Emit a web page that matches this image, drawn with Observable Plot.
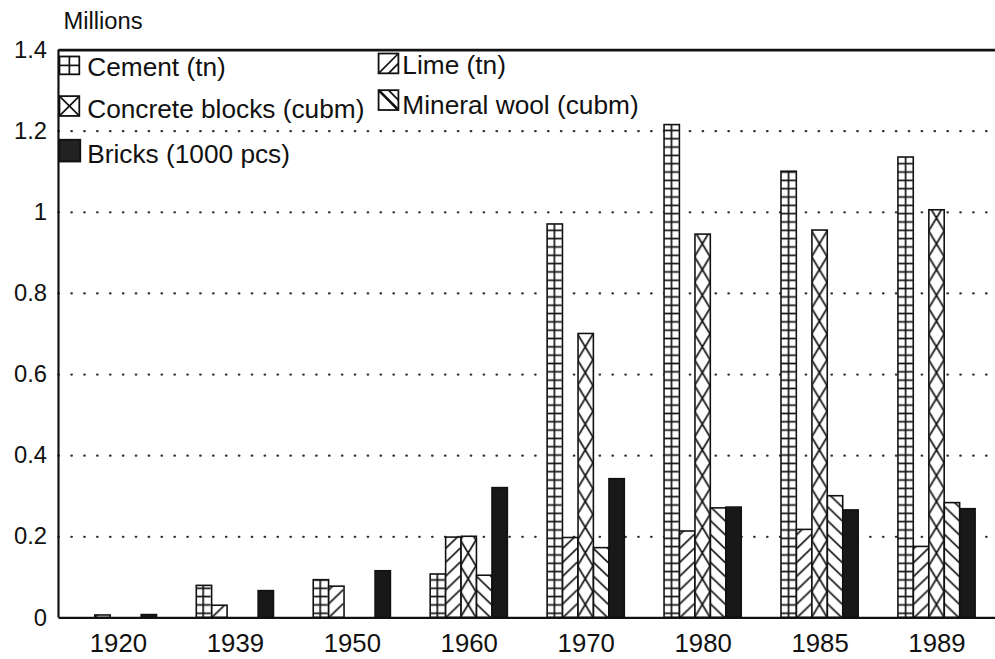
<!DOCTYPE html>
<html><head><meta charset="utf-8">
<script src="https://cdn.jsdelivr.net/npm/d3@7"></script>
<script src="https://cdn.jsdelivr.net/npm/@observablehq/plot@0.6"></script>
<style>
html,body{margin:0;padding:0;background:#fff;overflow:hidden;}
#wrap{position:relative;width:995px;height:659px;overflow:hidden;background:#fff;}
</style></head><body><div id="wrap"></div>
<script>
// ---- data ----
const years = ["1920","1939","1950","1960","1970","1980","1985","1989"];
const seriesNames = ["Cement (tn)","Lime (tn)","Concrete blocks (cubm)","Mineral wool (cubm)","Bricks (1000 pcs)"];
const cement      = [0,     0.079, 0.093, 0.107, 0.97,  1.215, 1.10,  1.135];
const lime        = [0.006, 0.030, 0.077, 0.198, 0.197, 0.213, 0.217, 0.175];
const concrete    = [0,     0,     0,     0.200, 0.700, 0.945, 0.955, 1.005];
const mineralWool = [0,     0,     0,     0.104, 0.172, 0.270, 0.300, 0.283];
const bricks      = [0.007, 0.066, 0.115, 0.320, 0.342, 0.272, 0.265, 0.268];
const yTicks = [0, 0.2, 0.4, 0.6, 0.8, 1, 1.2, 1.4];
const gridTicks = [0.2, 0.4, 0.6, 0.8, 1, 1.2];
const yLabel = "Millions";

// ---- layout ----
const W = 1004, H = 659, ML = 59, MR = 0, MT = 50, MB = 36;
const step = (W - ML - MR) / years.length;
const barW = 15.6;
const pad = (step - barW * seriesNames.length) / 2;
const ink = "#111";
const font = "'Liberation Sans', Arial, Helvetica, sans-serif";

const seriesValues = [cement, lime, concrete, mineralWool, bricks];
const fills = ["url(#pat0)", "url(#pat1)", "url(#pat2)", "url(#pat3)", "#181818"];

const barMarks = seriesValues.map((vals, i) => Plot.barY(
  years.map((year, j) => ({year, value: vals[j]})).filter(d => d.value > 0),
  {x: "year", y: "value", fill: fills[i], stroke: ink, strokeWidth: 1.6,
   insetLeft: pad + i * barW, insetRight: step - pad - (i + 1) * barW}
));

const chart = Plot.plot({
  width: W, height: H,
  marginLeft: ML, marginRight: MR, marginTop: MT, marginBottom: MB,
  style: {fontFamily: font, color: ink, background: "#fff", overflow: "visible"},
  x: {type: "band", domain: years, padding: 0, label: null},
  y: {domain: [0, 1.4], label: null},
  marks: [
    Plot.ruleY(gridTicks, {stroke: "#333", strokeWidth: 2.3, strokeDasharray: "0.5 12.5", strokeLinecap: "round"}),
    ...barMarks,
    Plot.ruleY([0], {stroke: ink, strokeWidth: 2.2}),
    Plot.ruleY([1.4], {stroke: ink, strokeWidth: 2.8}),
    Plot.axisX({tickSize: 0, tickPadding: 16, fontSize: 26, label: null}),
    Plot.axisY({ticks: yTicks, tickSize: 0, tickPadding: 12, fontSize: 24, label: null, tickFormat: d3.format("~g")})
  ]
});

document.getElementById("wrap").appendChild(chart);

// ---- patterns ----
const svg = d3.select(chart);
const yScale = chart.scale("y");
const y0 = yScale.apply(0);
const defs = svg.insert("defs", ":first-child");
function mkPattern(id, i, P, draw) {
  const ox = pad + i * barW;
  const p = defs.append("pattern").attr("id", id).attr("patternUnits", "userSpaceOnUse")
    .attr("x", ML).attr("y", y0).attr("width", step).attr("height", P);
  p.append("rect").attr("x", ox - 1).attr("y", 0).attr("width", barW + 2).attr("height", P).attr("fill", "#fff");
  const line = (x1, y1, x2, y2) => p.append("line").attr("x1", x1).attr("y1", y1).attr("x2", x2).attr("y2", y2)
    .attr("stroke", ink).attr("stroke-width", 1.7);
  draw(line, ox);
}
// cement grid
mkPattern("pat0", 0, 8.4, (line, ox) => {
  line(ox + barW / 2, -1, ox + barW / 2, 9.4);
  line(ox, 4.2, ox + barW, 4.2);
});
// lime "/"
mkPattern("pat1", 1, 14, (line, ox) => {
  for (let k = -2; k <= 2; k++) line(ox, k * 14 + 15, ox + barW, k * 14);
});
// concrete X
mkPattern("pat2", 2, 26, (line, ox) => {
  for (let k = -2; k <= 2; k++) {
    line(ox, k * 26 + 26, ox + barW, k * 26);
    line(ox, k * 26, ox + barW, k * 26 + 26);
  }
});
// mineral wool "\"
mkPattern("pat3", 3, 14, (line, ox) => {
  for (let k = -2; k <= 2; k++) line(ox, k * 14, ox + barW, k * 14 + 15);
});

// left axis line
svg.append("line").attr("x1", ML).attr("x2", ML)
  .attr("y1", yScale.apply(1.4)).attr("y2", y0)
  .attr("stroke", ink).attr("stroke-width", 2.2);

// y label
svg.append("text").attr("x", 64).attr("y", 29).attr("font-size", 24).attr("fill", ink)
  .attr("text-anchor", "start").attr("font-family", font).text(yLabel);

// ---- legend ----
const leg = svg.append("g").attr("font-family", font).attr("font-size", 26.5)
  .attr("fill", ink).attr("text-anchor", "start");
const legItems = [
  {i: 0, sx: 60, sy: 57, sw: 20, sh: 18, tx: 88, ty: 77},
  {i: 1, sx: 382, sy: 54, sw: 20, sh: 20, tx: 406, ty: 75},
  {i: 2, sx: 60, sy: 97, sw: 20, sh: 20, tx: 88, ty: 119},
  {i: 3, sx: 382, sy: 91, sw: 20, sh: 20, tx: 406, ty: 115},
  {i: 4, sx: 60, sy: 141, sw: 21, sh: 22, tx: 88, ty: 164}
];
legItems.forEach(o => {
  const g = leg.append("g");
  const l = (x1, y1, x2, y2, w) => g.append("line").attr("x1", o.sx + x1).attr("y1", o.sy + y1)
    .attr("x2", o.sx + x2).attr("y2", o.sy + y2).attr("stroke", ink).attr("stroke-width", w || 1.7);
  g.append("rect").attr("x", o.sx).attr("y", o.sy).attr("width", o.sw).attr("height", o.sh)
    .attr("fill", o.i === 4 ? "#222" : "#fff").attr("stroke", ink).attr("stroke-width", 1.8);
  if (o.i === 0) { l(o.sw / 2, 0, o.sw / 2, o.sh); l(0, o.sh / 2, o.sw, o.sh / 2); }
  if (o.i === 1) { l(0, o.sh, o.sw, 0); l(o.sw / 2, o.sh, o.sw, o.sh / 2); }
  if (o.i === 2) { l(0, 0, o.sw, o.sh); l(0, o.sh, o.sw, 0); }
  if (o.i === 3) { l(0, 0, o.sw, o.sh, 2.6); l(o.sw / 2, 0, o.sw, o.sh / 2); }
  leg.append("text").attr("x", o.tx).attr("y", o.ty).attr("text-anchor", "start").text(seriesNames[o.i]);
});
</script></body></html>
